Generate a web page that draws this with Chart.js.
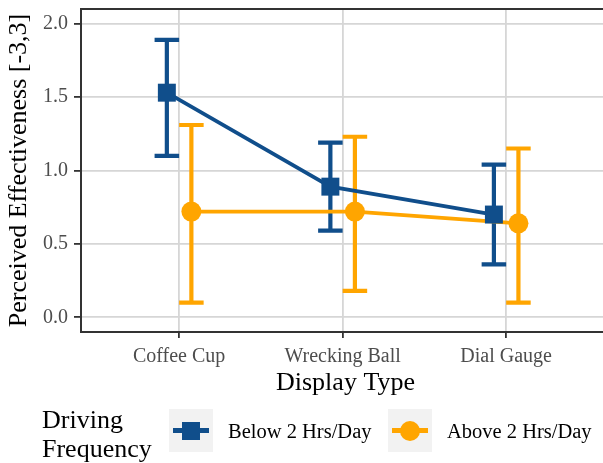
<!DOCTYPE html>
<html><head><meta charset="utf-8">
<script src="https://cdn.jsdelivr.net/npm/chart.js@4/dist/chart.umd.min.js"></script>
<style>
html,body{margin:0;padding:0;background:#fff;overflow:hidden}
#wrap{position:relative;width:603px;height:463px;overflow:hidden}
#c{position:absolute;left:0;top:0}
.lg{position:absolute;font-family:"Liberation Serif","Times New Roman",serif;color:#000;white-space:nowrap}
#lgTitle{left:42px;top:404.7px;font-size:26px;line-height:29px}
.key{position:absolute;top:409px;width:44px;height:43px;background:#F2F2F2}
.key .ln{position:absolute;left:4px;top:19.4px;width:36px;height:4.2px}
.key .sq{position:absolute;left:13px;top:12.5px;width:18px;height:18px}
.key .ci{position:absolute;left:12px;top:11.5px;width:20px;height:20px;border-radius:50%}
.lab{font-size:20.5px;line-height:24px;top:419.1px}
</style>
</head><body>
<div id="wrap">
<canvas id="c" width="610" height="463"></canvas>
<div id="lgTitle" class="lg"></div>
<div class="key" style="left:169px"><div class="ln" id="ln0"></div><div class="sq" id="mk0"></div></div>
<div id="lab0" class="lg lab" style="left:228px"></div>
<div class="key" style="left:388px"><div class="ln" id="ln1"></div><div class="ci" id="mk1"></div></div>
<div id="lab1" class="lg lab" style="left:447px"></div>
</div>
<script>
// ---- data ----
const categories = ['Coffee Cup', 'Wrecking Ball', 'Dial Gauge'];
const seriesNames = ['Below 2 Hrs/Day', 'Above 2 Hrs/Day'];
const belowMean = [1.53, 0.89, 0.70];
const belowLow  = [1.10, 0.59, 0.36];
const belowHigh = [1.89, 1.19, 1.04];
const aboveMean = [0.72, 0.72, 0.64];
const aboveLow  = [0.10, 0.18, 0.10];
const aboveHigh = [1.31, 1.23, 1.15];
const yTicks = [0, 0.5, 1.0, 1.5, 2.0];
const legendTitle = ['Driving', 'Frequency'];
const xTitle = 'Display Type';
const yTitle = 'Perceived Effectiveness [-3,3]';

// ---- style ----
const FONT = '"Liberation Serif", "Times New Roman", serif';
const BLUE = '#104E8B', ORANGE = '#FFA500';
const DODGE = 0.075, CAP = 0.075;

const pts = (means, off) => means.map((v, i) => ({x: i + 1 + off, y: v}));
// error bars: stem + two caps per category, separated by gaps (null y)
const errPts = (lo, hi, off) => {
  const out = [];
  lo.forEach((l, i) => {
    const c = i + 1 + off;
    out.push({x: c, y: l}, {x: c, y: hi[i]}, {x: c, y: null},
             {x: c - CAP, y: hi[i]}, {x: c + CAP, y: hi[i]}, {x: c, y: null},
             {x: c - CAP, y: l}, {x: c + CAP, y: l}, {x: c, y: null});
  });
  return out;
};

// ---- HTML legend ----
document.getElementById('lgTitle').innerHTML = legendTitle.join('<br>');
document.getElementById('lab0').textContent = seriesNames[0];
document.getElementById('lab1').textContent = seriesNames[1];
['ln0', 'mk0'].forEach(id => document.getElementById(id).style.background = BLUE);
['ln1', 'mk1'].forEach(id => document.getElementById(id).style.background = ORANGE);

const zeroPad = s => { s.paddingTop = 0; s.paddingBottom = 0; s.paddingLeft = 0; s.paddingRight = 0; };

new Chart(document.getElementById('c'), {
  type: 'scatter',
  data: {
    datasets: [
      {label: seriesNames[1] + ' points', data: pts(aboveMean, DODGE), backgroundColor: ORANGE, borderWidth: 0,
       pointStyle: 'circle', pointRadius: 10, showLine: false},
      {label: seriesNames[0] + ' points', data: pts(belowMean, -DODGE), backgroundColor: BLUE, borderWidth: 0,
       pointStyle: 'rect', pointRadius: 12.7, showLine: false},
      {label: seriesNames[1] + ' line', data: pts(aboveMean, DODGE), borderColor: ORANGE, borderWidth: 3.8,
       pointRadius: 0, showLine: true, tension: 0},
      {label: seriesNames[0] + ' line', data: pts(belowMean, -DODGE), borderColor: BLUE, borderWidth: 3.8,
       pointRadius: 0, showLine: true, tension: 0},
      {label: seriesNames[1] + ' errors', data: errPts(aboveLow, aboveHigh, DODGE), borderColor: ORANGE, borderWidth: 4.2,
       pointRadius: 0, showLine: true, spanGaps: false, tension: 0, borderCapStyle: 'butt'},
      {label: seriesNames[0] + ' errors', data: errPts(belowLow, belowHigh, -DODGE), borderColor: BLUE, borderWidth: 4.2,
       pointRadius: 0, showLine: true, spanGaps: false, tension: 0, borderCapStyle: 'butt'}
    ]
  },
  options: {
    responsive: false,
    animation: false,
    devicePixelRatio: 1,
    layout: {autoPadding: false, padding: {top: 9, bottom: 61, left: 0, right: 0}},
    plugins: {legend: {display: false}, tooltip: {enabled: false}},
    scales: {
      x: {
        type: 'linear', min: 0.4, max: 3.635,
        afterBuildTicks: s => { s.ticks = categories.map((c, i) => ({value: i + 1})); },
        afterFit: s => { s.height = 70; zeroPad(s); },
        ticks: {
          callback: v => categories[Math.round(v) - 1] ?? '',
          color: '#4D4D4D', font: {family: FONT, size: 20}, padding: 7, maxRotation: 0, autoSkip: false
        },
        grid: {color: '#D6D6D6', lineWidth: 1.8, tickColor: '#333333', tickWidth: 1.8, tickLength: 6},
        border: {display: true, color: '#333333', width: 2},
        title: {display: true, text: xTitle, color: '#000', font: {family: FONT, size: 26}, padding: {top: 0, bottom: 3}}
      },
      xTop: {
        type: 'linear', position: 'top', min: 0.4, max: 3.635,
        afterBuildTicks: s => { s.ticks = categories.map((c, i) => ({value: i + 1})); },
        afterFit: s => { s.height = 0; zeroPad(s); },
        ticks: {display: false},
        grid: {display: false, drawOnChartArea: false, drawTicks: false},
        border: {display: true, color: '#333333', width: 2}
      },
      y: {
        type: 'linear', min: -0.1, max: 2.1,
        afterBuildTicks: s => { s.ticks = yTicks.map(v => ({value: v})); },
        afterFit: s => { s.width = 81; zeroPad(s); },
        ticks: {
          callback: v => Number(v).toFixed(1),
          color: '#4D4D4D', font: {family: FONT, size: 20}, padding: 6
        },
        grid: {color: '#D6D6D6', lineWidth: 1.8, tickColor: '#333333', tickWidth: 1.8, tickLength: 7},
        border: {display: true, color: '#333333', width: 2},
        title: {display: true, text: yTitle, color: '#000', font: {family: FONT, size: 26}, padding: {top: 3.4, bottom: 0}}
      }
    }
  }
});
</script>
</body></html>
